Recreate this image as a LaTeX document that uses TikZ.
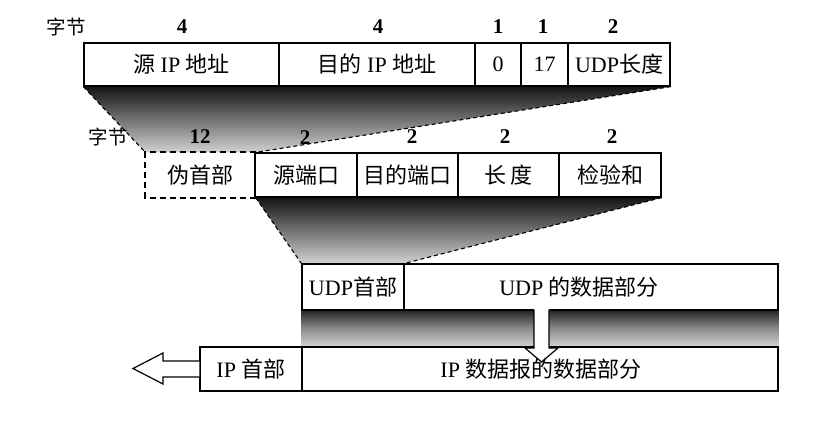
\documentclass[tikz,border=0pt]{standalone}
\usepackage{fontspec}
\setmainfont{Liberation Serif}
\newfontfamily\zh{Noto Sans CJK SC}
\pgfdeclarelayer{background}
\pgfsetlayers{background,main}
\begin{document}
\begin{tikzpicture}[x=1pt,y=-1pt,
  cell/.style={draw, line width=1.3pt, fill=white, inner sep=0pt, font=\fontsize{22}{26}\selectfont},
  txt/.style={inner sep=0pt, font=\fontsize{22}{26}\selectfont},
  lbl/.style={inner sep=0pt, font=\fontsize{21}{24}\selectfont\bfseries},
  zlbl/.style={inner sep=0pt, font=\fontsize{19.5}{23}\selectfont\zh},
  shedge/.style={dash pattern=on 4pt off 3pt, line width=1.1pt},
  shade/.style={top color=black!92, bottom color=black!18, middle color=black!55},
  hollow/.style={draw, line width=1.2pt, fill=white, line join=miter}]
\useasboundingbox (0,0) rectangle (818,422);

% ---- row 1
\node[cell, minimum width=195pt, minimum height=43pt] (r1a) at (181.5,64.5) {{\zh 源} IP {\zh 地址}};
\node[cell, minimum width=196pt, minimum height=43pt] (r1b) at (377,64.5) {{\zh 目的} IP {\zh 地址}};
\node[cell, minimum width=46pt, minimum height=43pt] (r1c) at (498,64.5) {0};
\node[cell, minimum width=47pt, minimum height=43pt] (r1d) at (544.5,64.5) {17};
\node[cell, minimum width=102pt, minimum height=43pt] (r1e) at (619,64.5) {UDP{\zh 长度}};

\node[zlbl] (b1) at (66,27) {字节};
\node[lbl] (n1a) at (182,27) {4};
\node[lbl] (n1b) at (378,27) {4};
\node[lbl] (n1c) at (498,27) {1};
\node[lbl] (n1d) at (543,27) {1};
\node[lbl] (n1e) at (613,27) {2};

% ---- row 2
\node[cell, draw=none, minimum width=109pt, minimum height=44pt] (r2a) at (200.5,175) {\zh 伪首部};
\draw[line width=1.8pt, dash pattern=on 6pt off 4pt] (r2a.north east) -- (r2a.north west) -- (r2a.south west) -- (r2a.south east);
\node[cell, minimum width=102pt, minimum height=44pt] (r2b) at (306,175) {\zh 源端口};
\node[cell, minimum width=101pt, minimum height=44pt] (r2c) at (407.5,175) {\zh 目的端口};
\node[cell, minimum width=101pt, minimum height=44pt] (r2d) at (508.5,175) {\zh 长\ 度};
\node[cell, minimum width=102pt, minimum height=44pt] (r2e) at (610,175) {\zh 检验和};

\node[zlbl] (b2) at (108,137) {字节};
\node[lbl] (n2a) at (200,137) {12};
\node[lbl] (n2b) at (305,138) {2};
\node[lbl] (n2c) at (412,137) {2};
\node[lbl] (n2d) at (505,137) {2};
\node[lbl] (n2e) at (612,137) {2};

% ---- row 3
\node[cell, minimum width=102pt, minimum height=46pt] (r3a) at (353,287) {UDP{\zh 首部}};
\node[cell, minimum width=374pt, minimum height=46pt] (r3b) at (591,287) {};
\node[txt] (r3bt) at (579,287) {UDP {\zh 的数据部分}};

% ---- row 4
\node[cell, minimum width=102pt, minimum height=44pt] (r4a) at (251,369) {IP {\zh 首部}};
\node[cell, minimum width=476pt, minimum height=44pt] (r4b) at (540,369) {};

% ---- shadings
\begin{pgfonlayer}{background}
  \shade[shade] (r1a.south west) -- (r1e.south east) -- (r2a.north east) -- (r2a.north west) -- cycle;
  \shade[shade] (r2a.south east) -- (r2e.south east) -- (r3a.north east) -- (r3a.north west) -- cycle;
  \shade[top color=black!85, bottom color=black!18, middle color=black!45] (r3a.south west) rectangle (r4b.north east);
\end{pgfonlayer}
\draw[shedge] (r1a.south west) -- (r2a.north west);
\draw[shedge] (r1e.south east) -- (r2a.north east);
\draw[shedge] (r2a.south east) -- (r3a.north west);
\draw[shedge] (r2e.south east) -- (r3a.north east);

% ---- hollow arrows
\fill[white] (534,308) -- (549,308) -- (549,348) -- (558,348) -- (541.5,362) -- (525,348) -- (534,348) -- cycle;
\draw[line width=1.2pt, line join=miter] (534,309.5) -- (534,348) -- (525,348) -- (541.5,362) -- (558,348) -- (549,348) -- (549,309.5);
\draw[hollow] (r4a.west |- 0,361) -- (163,361) -- (163,353) -- (133,368.5) -- (163,384) -- (163,377) -- (r4a.west |- 0,377);

\node[txt] (r4bt) at (541,369) {IP {\zh 数据报的数据部分}};
\end{tikzpicture}
\end{document}
